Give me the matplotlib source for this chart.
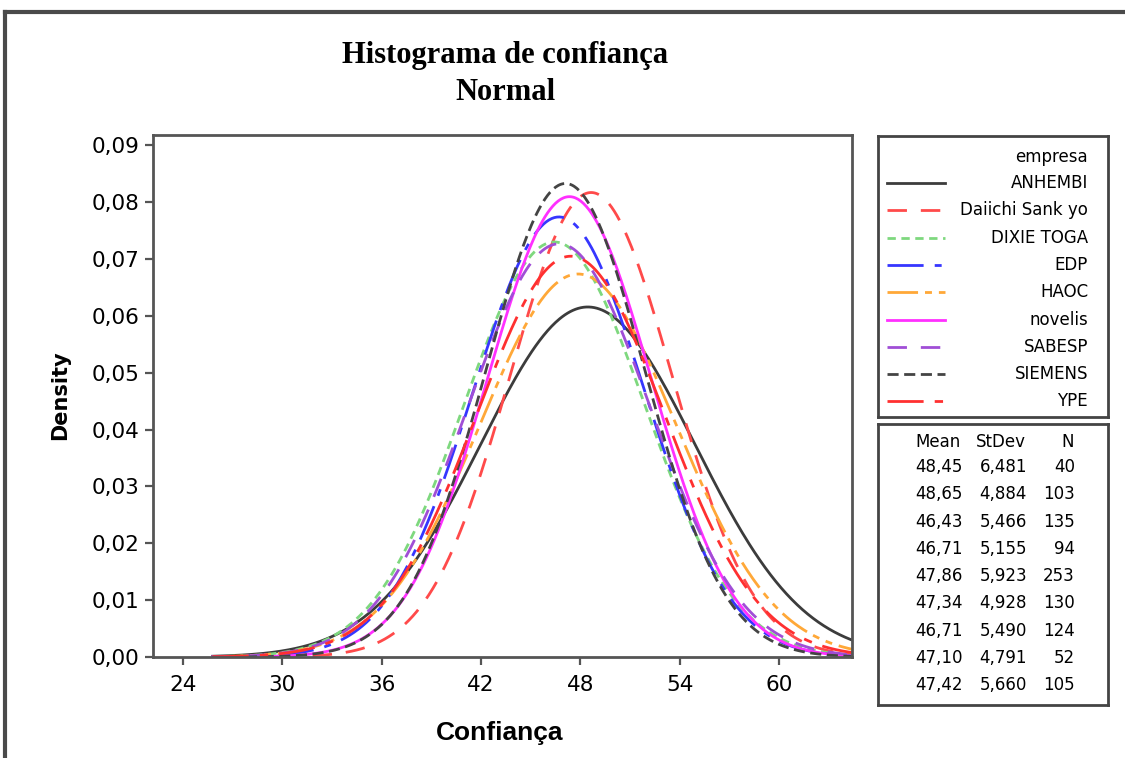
import numpy as np
import matplotlib
matplotlib.use("Agg")
import matplotlib.pyplot as plt
from matplotlib.lines import Line2D
from matplotlib.ticker import FuncFormatter

# fitted normal parameters per company
empresas = ["ANHEMBI", "Daiichi Sank yo", "DIXIE TOGA", "EDP", "HAOC",
            "novelis", "SABESP", "SIEMENS", "YPE"]
means = [48.45, 48.65, 46.43, 46.71, 47.86, 47.34, 46.71, 47.10, 47.42]
stdevs = [6.481, 4.884, 5.466, 5.155, 5.923, 4.928, 5.490, 4.791, 5.660]
counts = [40, 103, 135, 94, 253, 130, 124, 52, 105]

mean_txt = ["48,45", "48,65", "46,43", "46,71", "47,86", "47,34", "46,71", "47,10", "47,42"]
sd_txt = ["6,481", "4,884", "5,466", "5,155", "5,923", "4,928", "5,490", "4,791", "5,660"]

x_ticks = [24, 30, 36, 42, 48, 54, 60]
y_ticks = [0.00, 0.01, 0.02, 0.03, 0.04, 0.05, 0.06, 0.07, 0.08, 0.09]

colors = ["#3c3c3c", "#ff4a4a", "#7ed87e", "#3636ff", "#ffa838",
          "#ff30ff", "#a04ed6", "#444444", "#ff3030"]
styles = ["-", (0, (7, 5)), (0, (3, 2)), (0, (13, 4, 2.5, 4)),
          (0, (11, 2.5, 2.5, 2.5, 2.5, 2.5)), "-", (0, (7, 5)), (0, (4, 2)),
          (0, (13, 4, 3, 4))]

W, H = 1125, 758
fig = plt.figure(figsize=(W / 100, H / 100), dpi=100)

def box(x0, y0, x1, y1):
    # pixel box (top-left origin) -> figure fraction rect
    return [x0 / W, 1 - y1 / H, (x1 - x0) / W, (y1 - y0) / H]

# outer frame
fig.add_artist(Line2D([5 / W, 1.0], [1 - 12 / H, 1 - 12 / H], color="#4a4a4a", lw=3))
fig.add_artist(Line2D([5 / W, 5 / W], [0.0, 1 - 12 / H], color="#4a4a4a", lw=3))

ax = fig.add_axes(box(153, 135, 852, 657))
xs = np.linspace(25.8, 66, 500)
for m, s, c, ls, name in zip(means, stdevs, colors, styles, empresas):
    dens = np.exp(-0.5 * ((xs - m) / s) ** 2) / (s * np.sqrt(2 * np.pi))
    ax.plot(xs, dens, color=c, ls=ls, lw=2, label=name)

ax.set_xlim(22.2, 64.4)
ax.set_ylim(0, 0.0918)
ax.set_xticks(x_ticks)
ax.set_yticks(y_ticks)
ax.yaxis.set_major_formatter(FuncFormatter(lambda v, p: f"{v:.2f}".replace(".", ",")))
for sp in ax.spines.values():
    sp.set_color("#555555")
    sp.set_linewidth(2)
ax.tick_params(direction="out", length=6, width=1.6, color="#555555",
               labelsize=15.5, pad=4, top=False, right=False)
ax.tick_params(axis="x", pad=7)

fig.text(505 / W, 1 - 55 / H, "Histograma de confiança", ha="center", va="center",
         family="Liberation Serif", weight="bold", fontsize=22)
fig.text(505 / W, 1 - 93 / H, "Normal", ha="center", va="center",
         family="Liberation Serif", weight="bold", fontsize=22)
fig.text(500 / W, 1 - 733 / H, "Confiança", ha="center", va="center",
         family="Liberation Sans", weight="bold", fontsize=19)
fig.text(60 / W, 1 - 395 / H, "Density", ha="center", va="center", rotation=90,
         family="DejaVu Sans", weight="bold", fontsize=15)

# legend box
lax = fig.add_axes(box(878, 136, 1108, 417))
lax.set_xlim(0, 230)
lax.set_ylim(281, 0)
lax.set_xticks([])
lax.set_yticks([])
for sp in lax.spines.values():
    sp.set_color("#444444")
    sp.set_linewidth(2)
lax.text(210, 21, "empresa", ha="right", va="center", fontsize=12)
for i, (name, c, ls) in enumerate(zip(empresas, colors, styles)):
    yy = 47 + i * 27.3
    lax.plot([9, 67], [yy, yy], color=c, ls=ls, lw=2)
    lax.text(210, yy, name, ha="right", va="center", fontsize=12)

# stats box
sax = fig.add_axes(box(878, 424, 1108, 705))
sax.set_xlim(0, 230)
sax.set_ylim(281, 0)
sax.set_xticks([])
sax.set_yticks([])
for sp in sax.spines.values():
    sp.set_color("#444444")
    sp.set_linewidth(2)
sax.text(83, 18, "Mean", ha="right", va="center", fontsize=12)
sax.text(148, 18, "StDev", ha="right", va="center", fontsize=12)
sax.text(196, 18, "N", ha="right", va="center", fontsize=12)
for i in range(len(empresas)):
    yy = 43 + i * 27.3
    sax.text(85, yy, mean_txt[i], ha="right", va="center", fontsize=12)
    sax.text(149, yy, sd_txt[i], ha="right", va="center", fontsize=12)
    sax.text(197, yy, str(counts[i]), ha="right", va="center", fontsize=12)

fig.savefig("out.png", dpi=100)
